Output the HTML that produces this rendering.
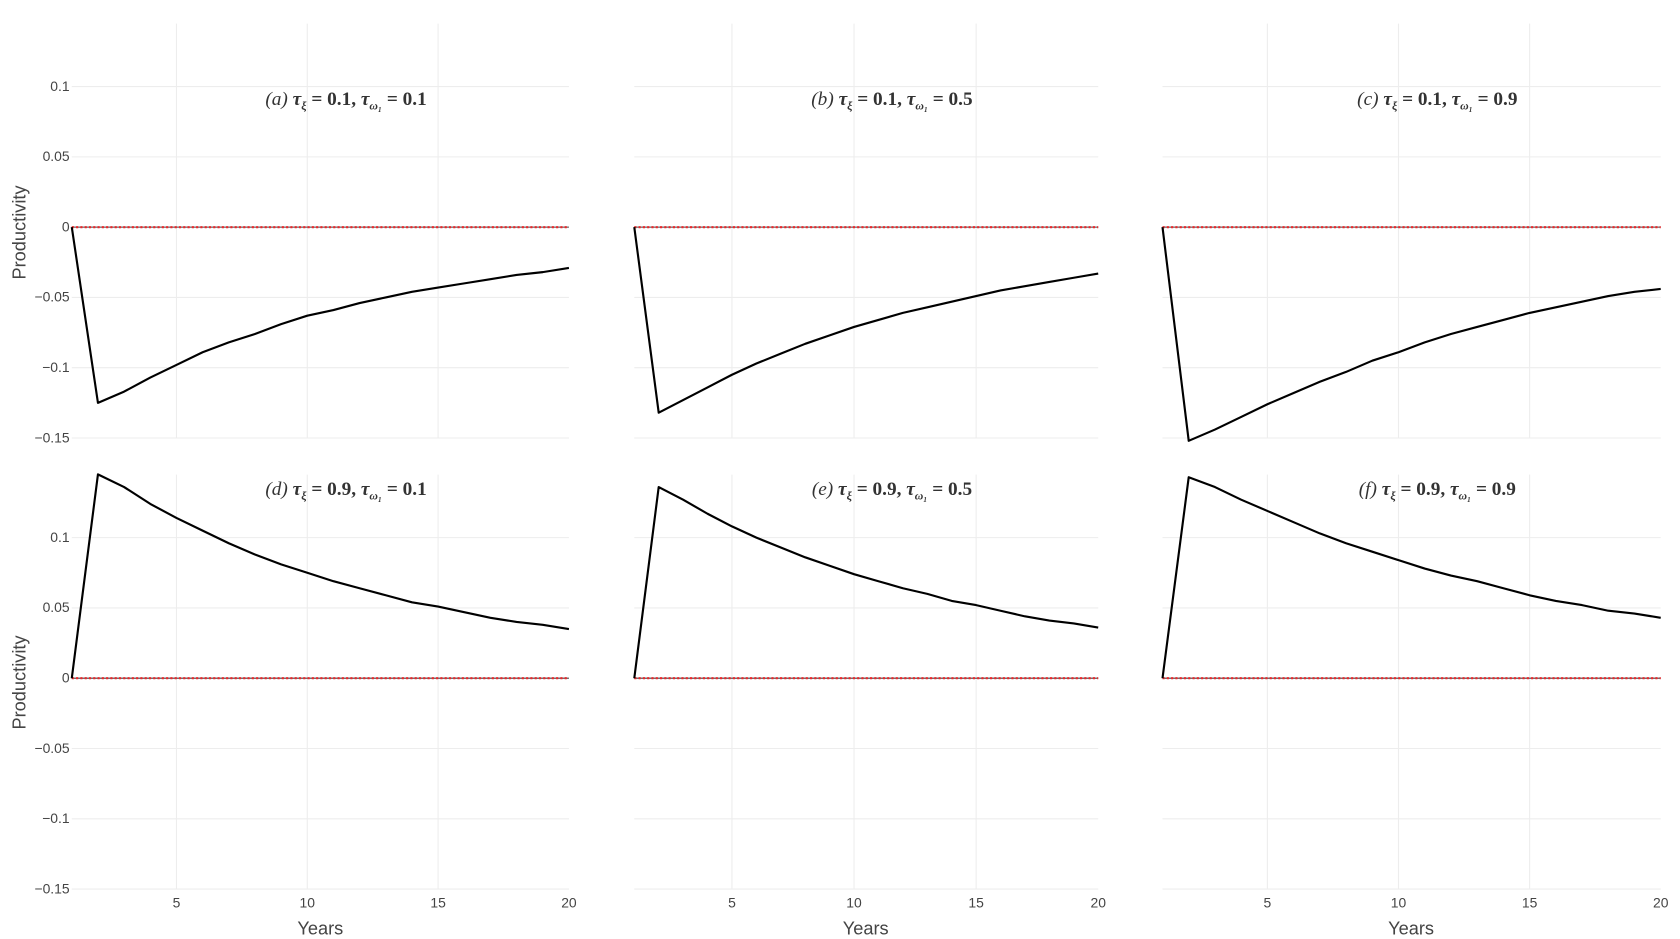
<!DOCTYPE html>
<html><head><meta charset="utf-8"><style>
html,body{margin:0;padding:0;background:#fff;}
svg{display:block;font-family:"Liberation Sans",sans-serif;}
</style></head><body>
<svg id="chart" width="1680" height="939" viewBox="0 0 1568 876.4" preserveAspectRatio="none" xmlns="http://www.w3.org/2000/svg"></svg>
<script>
const years = [1,2,3,4,5,6,7,8,9,10,11,12,13,14,15,16,17,18,19,20];
const seriesA = [0,-0.125,-0.117,-0.107,-0.098,-0.089,-0.082,-0.076,-0.069,-0.063,-0.059,-0.054,-0.050,-0.046,-0.043,-0.040,-0.037,-0.034,-0.032,-0.029];
const seriesB = [0,-0.132,-0.123,-0.114,-0.105,-0.097,-0.090,-0.083,-0.077,-0.071,-0.066,-0.061,-0.057,-0.053,-0.049,-0.045,-0.042,-0.039,-0.036,-0.033];
const seriesC = [0,-0.152,-0.144,-0.135,-0.126,-0.118,-0.110,-0.103,-0.095,-0.089,-0.082,-0.076,-0.071,-0.066,-0.061,-0.057,-0.053,-0.049,-0.046,-0.044];
const seriesD = [0,0.145,0.136,0.124,0.114,0.105,0.096,0.088,0.081,0.075,0.069,0.064,0.059,0.054,0.051,0.047,0.043,0.040,0.038,0.035];
const seriesE = [0,0.136,0.127,0.117,0.108,0.100,0.093,0.086,0.080,0.074,0.069,0.064,0.060,0.055,0.052,0.048,0.044,0.041,0.039,0.036];
const seriesF = [0,0.143,0.136,0.127,0.119,0.111,0.103,0.096,0.090,0.084,0.078,0.073,0.069,0.064,0.059,0.055,0.052,0.048,0.046,0.043];
const yTicks = [0.1,0.05,0,-0.05,-0.1,-0.15];
const yTickLabels = ["0.1","0.05","0","\u22120.05","\u22120.1","\u22120.15"];
const xTicks = [5,10,15,20];
const panelLabels = ["a","b","c","d","e","f"];
const tauXi = ["0.1","0.1","0.1","0.9","0.9","0.9"];
const tauOmega = ["0.1","0.5","0.9","0.1","0.5","0.9"];

const NS="http://www.w3.org/2000/svg";
const svg=document.getElementById('chart');
function mk(tag,attrs,parent){const e=document.createElementNS(NS,tag);for(const k in attrs)e.setAttribute(k,attrs[k]);(parent||svg).appendChild(e);return e;}

const cols=[{x1:67,x20:531},{x1:592,x20:1025},{x1:1085,x20:1550}];
const rows=[{y0:212,top:22,bottom:409,titleY:98},{y0:633,top:443,bottom:830,titleY:462}];
const perY=65.6/0.05;
const allSeries=[seriesA,seriesB,seriesC,seriesD,seriesE,seriesF];

for(let r=0;r<2;r++)for(let c=0;c<3;c++){
  const i=r*3+c, col=cols[c], row=rows[r];
  const xs=v=>col.x1+(v-1)*(col.x20-col.x1)/19;
  const ys=v=>row.y0-v*perY;
  const g=mk('g',{});
  
  
  xTicks.slice(0,3).forEach(t=>{const l=mk('line',{x1:xs(t),x2:xs(t),y1:row.top,y2:row.bottom,stroke:'#ededed','stroke-width':1},g);
    });
  yTicks.forEach((t,k)=>{const l=mk('line',{x1:col.x1,x2:col.x20,y1:ys(t),y2:ys(t),stroke:'#ededed','stroke-width':1},g);
    
    if(c===0){const tx=mk('text',{x:col.x1-2,y:ys(t)+4,'text-anchor':'end','font-size':13,fill:'#444'},g);tx.textContent=yTickLabels[k];
      }
  });
  const zl=mk('line',{x1:col.x1,x2:col.x20,y1:ys(0),y2:ys(0),stroke:'#444','stroke-width':1},g);
  
  const rl=mk('line',{x1:col.x1,x2:col.x20,y1:ys(0),y2:ys(0),stroke:'#e8282b','stroke-width':2,'stroke-dasharray':'2,2'},g);
  
  const pts=years.map((yr,k)=>xs(yr)+','+ys(allSeries[i][k])).join(' ');
  const pl=mk('polyline',{points:pts,fill:'none',stroke:'#000','stroke-width':2,'stroke-linejoin':'round'},g);
  
  const cx=(col.x1+col.x20)/2;
  const tt=mk('text',{x:cx+24,y:row.titleY,'text-anchor':'middle','font-family':'"Liberation Serif",serif','font-size':18,'font-weight':'bold',fill:'#333'},g);
  tt.innerHTML='<tspan font-style="italic" font-weight="normal">('+panelLabels[i]+')</tspan> <tspan font-style="italic">τ</tspan><tspan font-size="11" dy="4" font-style="italic">ξ</tspan><tspan dy="-4"> = '+tauXi[i]+', </tspan><tspan font-style="italic">τ</tspan><tspan font-size="11" dy="4" font-style="italic">ω₁</tspan><tspan dy="-4"> = '+tauOmega[i]+'</tspan>';
  
  if(r===1){
    xTicks.forEach(t=>{const tx=mk('text',{x:xs(t),y:847,'text-anchor':'middle','font-size':13,fill:'#444'},g);tx.textContent=t;
      });
    const xt=mk('text',{x:[299,808,1317][c],y:872,'text-anchor':'middle','font-size':17,fill:'#444'},g);xt.textContent='Years';
    
  }
  if(c===0){
    const yc=[217,637][r];
    const yt=mk('text',{x:24,y:yc,'text-anchor':'middle','font-size':17,fill:'#444',transform:'rotate(-90 24 '+yc+')'},g);yt.textContent='Productivity';
    
  }
}
</script>
</body></html>
